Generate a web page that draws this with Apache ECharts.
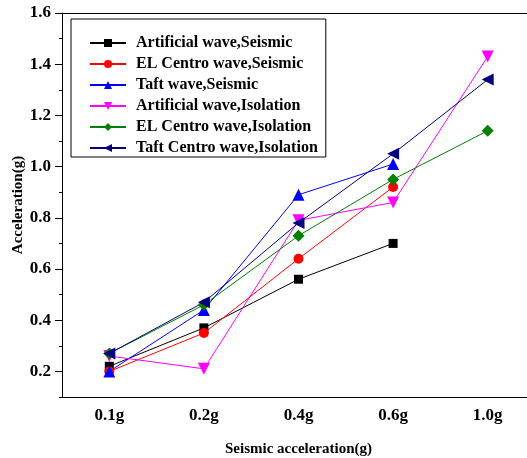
<!DOCTYPE html>
<html>
<head>
<meta charset="utf-8">
<script src="https://cdn.jsdelivr.net/npm/echarts@6/dist/echarts.min.js"></script>
<style>
  html, body { margin: 0; padding: 0; background: #fff; }
  #main { width: 527px; height: 458px; }
</style>
</head>
<body>
<div id="main"></div>
<script>
// categories on x
var categories = ['0.1g', '0.2g', '0.4g', '0.6g', '1.0g'];

// series values (g)
var artificialSeismic = [0.22, 0.37, 0.56, 0.70, null];
var elCentroSeismic = [0.20, 0.35, 0.64, 0.92, null];
var taftSeismic = [0.20, 0.44, 0.89, 1.01, null];
var artificialIsolation = [0.26, 0.21, 0.79, 0.86, 1.43];
var elCentroIsolation = [0.27, 0.46, 0.73, 0.95, 1.14];
var taftIsolation = [0.27, 0.47, 0.78, 1.05, 1.34];

// y tick labels
var yMajor = [0.2, 0.4, 0.6, 0.8, 1.0, 1.2, 1.4, 1.6];
var yMinor = [0.1, 0.3, 0.5, 0.7, 0.9, 1.1, 1.3, 1.5];

var font = "'Liberation Serif', 'Times New Roman', serif";

function line(name, data, color, symbol, size, rotate) {
    return {
        name: name,
        type: 'line',
        data: data,
        symbol: symbol,
        symbolSize: size,
        symbolRotate: rotate || 0,
        showAllSymbol: true,
        connectNulls: false,
        lineStyle: { color: color, width: 1 },
        itemStyle: { color: color, borderWidth: 0 },
        emphasis: { disabled: true }
    };
}

var chart = echarts.init(document.getElementById('main'));
var option = {
    animation: false,
    // plot runs past the right edge of the picture (it is cropped)
    grid: { left: 62, top: 13, width: 473, height: 384, outerBoundsMode: 'none', containLabel: false },
    legend: {
        orient: 'vertical',
        left: 71,
        top: 19,
        padding: [16, 8, 1, 18],
        borderColor: '#000',
        borderWidth: 1,
        itemWidth: 36,
        itemHeight: 10,
        itemGap: 5,
        textStyle: {
            fontFamily: font,
            fontWeight: 'bold',
            fontSize: 16,
            color: '#000',
            padding: [0, 0, 0, 5]
        },
        data: ['Artificial wave,Seismic', 'EL Centro wave,Seismic', 'Taft wave,Seismic',
               'Artificial wave,Isolation', 'EL Centro wave,Isolation', 'Taft Centro wave,Isolation']
    },
    xAxis: [
        {
            type: 'category',
            data: categories,
            position: 'bottom',
            boundaryGap: true,
            name: 'Seismic acceleration(g)',
            nameLocation: 'middle',
            nameGap: 45,
            nameMoveOverlap: false,
            nameTextStyle: { fontFamily: font, fontWeight: 'bold', fontSize: 15, color: '#000' },
            axisLine: { lineStyle: { color: '#000', width: 1 } },
            axisTick: { alignWithLabel: true, length: 6, lineStyle: { color: '#000' } },
            axisLabel: { margin: 10, fontFamily: font, fontWeight: 'bold', fontSize: 17, color: '#000' },
            splitLine: { show: false }
        },
        {
            type: 'category',
            data: categories,
            position: 'bottom',
            boundaryGap: true,
            axisLine: { show: false },
            axisTick: { length: 3, lineStyle: { color: '#000' } },
            axisLabel: { show: false },
            splitLine: { show: false }
        },
        {
            type: 'category',
            data: categories,
            position: 'top',
            boundaryGap: true,
            axisLine: { lineStyle: { color: '#000', width: 1 } },
            axisTick: { alignWithLabel: true, inside: true, length: 5, lineStyle: { color: '#000' } },
            axisLabel: { show: false },
            splitLine: { show: false }
        },
        {
            type: 'category',
            data: categories,
            position: 'top',
            boundaryGap: true,
            axisLine: { show: false },
            axisTick: { inside: true, length: 3, lineStyle: { color: '#000' } },
            axisLabel: { show: false },
            splitLine: { show: false }
        }
    ],
    yAxis: [
        {
            type: 'value',
            min: 0.1,
            max: 1.6,
            position: 'left',
            name: 'Acceleration(g)',
            nameLocation: 'middle',
            nameGap: 36,
            nameMoveOverlap: false,
            nameTextStyle: { fontFamily: font, fontWeight: 'bold', fontSize: 15, color: '#000' },
            axisLine: { show: true, lineStyle: { color: '#000', width: 1 } },
            axisTick: { show: true, length: 7, customValues: yMajor, lineStyle: { color: '#000' } },
            axisLabel: {
                margin: 11,
                customValues: yMajor,
                fontFamily: font, fontWeight: 'bold', fontSize: 17, color: '#000',
                formatter: function (v) { return v.toFixed(1); }
            },
            splitLine: { show: false }
        },
        {
            type: 'value',
            min: 0.1,
            max: 1.6,
            position: 'left',
            axisLine: { show: false },
            axisTick: { show: true, length: 3, customValues: yMinor, lineStyle: { color: '#000' } },
            axisLabel: { show: false },
            splitLine: { show: false }
        }
    ],
    series: [
        line('Artificial wave,Seismic', artificialSeismic, '#000000', 'rect', 9),
        line('EL Centro wave,Seismic', elCentroSeismic, '#ff0000', 'circle', 10),
        line('Taft wave,Seismic', taftSeismic, '#0000ff', 'triangle', 12),
        line('Artificial wave,Isolation', artificialIsolation, '#ff00ff', 'triangle', 12, 180),
        line('EL Centro wave,Isolation', elCentroIsolation, '#008000', 'diamond', 12),
        line('Taft Centro wave,Isolation', taftIsolation, '#000080', 'triangle', 12, 90)
    ]
};
chart.setOption(option);
</script>
</body>
</html>
